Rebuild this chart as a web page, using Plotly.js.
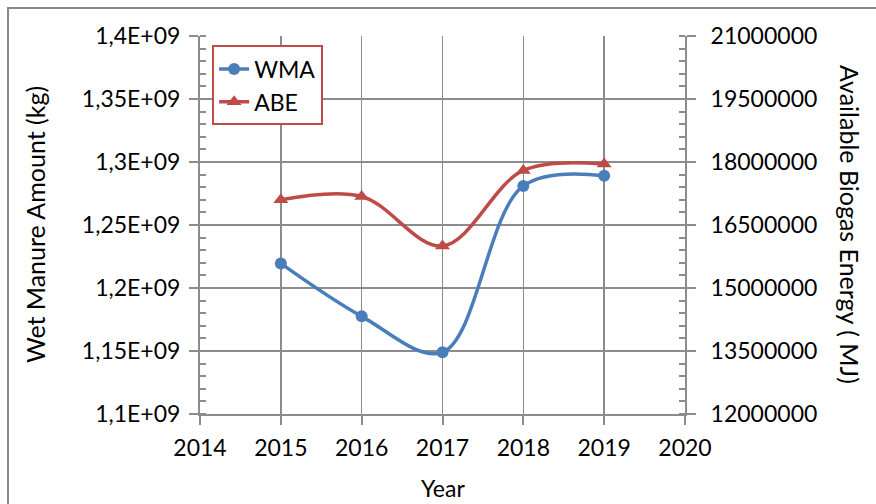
<!DOCTYPE html>
<html>
<head>
<meta charset="utf-8">
<script src="https://cdn.plot.ly/plotly-3.0.1.min.js"></script>
<style>
  body { margin: 0; background: #fff; }
  #frame { position: absolute; left: 7px; top: 7px; width: 880px; height: 510px;
           border-left: 2px solid #888; border-top: 2px solid #888; }
  #chart { position: absolute; left: 0; top: 0; width: 876px; height: 504px; }
</style>
</head>
<body>
<div id="frame"></div>
<div id="chart"></div>
<script>
// values
const years = [2015, 2016, 2017, 2018, 2019];
const wma = [1.2195e9, 1.1775e9, 1.149e9, 1.281e9, 1.289e9];   // wet manure amount, kg
const abe = [17100000, 17180000, 16000000, 17800000, 17950000]; // available biogas energy, MJ

const leftTicks = [1.1e9, 1.15e9, 1.2e9, 1.25e9, 1.3e9, 1.35e9, 1.4e9];
const leftLabels = ['1,1E+09', '1,15E+09', '1,2E+09', '1,25E+09', '1,3E+09', '1,35E+09', '1,4E+09'];

const blue = '#4A7EBB';
const red = '#BE4B48';
const grid = '#8C8C8C';
const font = 'Lato, Open Sans, sans-serif';

const traces = [
  {
    x: years, y: wma, name: 'WMA', type: 'scatter', mode: 'lines+markers',
    line: { color: blue, width: 3.5, shape: 'spline', smoothing: 1 },
    marker: { symbol: 'circle', size: 12, color: blue }
  },
  {
    x: years, y: abe, name: 'ABE', type: 'scatter', mode: 'lines+markers', yaxis: 'y2',
    line: { color: red, width: 3.5, shape: 'spline', smoothing: 1 },
    marker: { symbol: 'triangle-up', size: 13, color: red }
  }
];

const layout = {
  width: 876, height: 504,
  margin: { l: 200, r: 191, t: 36, b: 90 },
  paper_bgcolor: 'rgba(0,0,0,0)',
  plot_bgcolor: 'rgba(0,0,0,0)',
  font: { family: font, size: 23, color: '#000' },
  showlegend: true,
  legend: {
    x: 0.025, y: 0.975, xanchor: 'left', yanchor: 'top',
    bgcolor: '#fff', bordercolor: red, borderwidth: 2,
    font: { size: 23 }, tracegroupgap: 0
  },
  xaxis: {
    range: [2014, 2020], dtick: 1, tick0: 2014,
    showgrid: true, gridcolor: grid, gridwidth: 1.5,
    showline: true, linecolor: grid, linewidth: 2, mirror: false,
    ticks: 'outside', ticklen: 9, tickwidth: 2, tickcolor: grid,
    ticklabelstandoff: 3,
    zeroline: false
  },
  yaxis: {
    range: [1.1e9, 1.4e9],
    tickvals: leftTicks, ticktext: leftLabels,
    showgrid: true, gridcolor: grid, gridwidth: 1.5,
    showline: true, linecolor: grid, linewidth: 2,
    ticks: 'outside', ticklen: 9, tickwidth: 2, tickcolor: grid,
    ticklabelstandoff: 4,
    minor: { dtick: 1e7, tick0: 1.1e9, ticks: 'inside', ticklen: 6, tickwidth: 2, tickcolor: grid, showgrid: false },
    zeroline: false
  },
  yaxis2: {
    overlaying: 'y', side: 'right',
    range: [12000000, 21000000], dtick: 1500000, tick0: 12000000, tickformat: 'd',
    showgrid: false,
    showline: true, linecolor: grid, linewidth: 2,
    ticks: 'outside', ticklen: 9, tickwidth: 2, tickcolor: grid,
    ticklabelstandoff: 10,
    minor: { dtick: 300000, tick0: 12000000, ticks: 'inside', ticklen: 6, tickwidth: 2, tickcolor: grid, showgrid: false },
    zeroline: false
  },
  annotations: [
    {
      text: 'Wet Manure Amount (kg)', textangle: -90,
      xref: 'paper', yref: 'paper', x: -0.34, y: 0.5,
      xanchor: 'center', yanchor: 'middle', showarrow: false,
      font: { size: 25 }
    },
    {
      text: 'Available Biogas Energy ( MJ)', textangle: 90,
      xref: 'paper', yref: 'paper', x: 1.34, y: 0.5,
      xanchor: 'center', yanchor: 'middle', showarrow: false,
      font: { size: 25 }
    },
    {
      text: 'Year',
      xref: 'paper', yref: 'paper', x: 0.5, y: -0.195,
      xanchor: 'center', yanchor: 'middle', showarrow: false,
      font: { size: 23 }
    }
  ]
};

Plotly.newPlot('chart', traces, layout, { displayModeBar: false, staticPlot: true });
</script>
</body>
</html>
